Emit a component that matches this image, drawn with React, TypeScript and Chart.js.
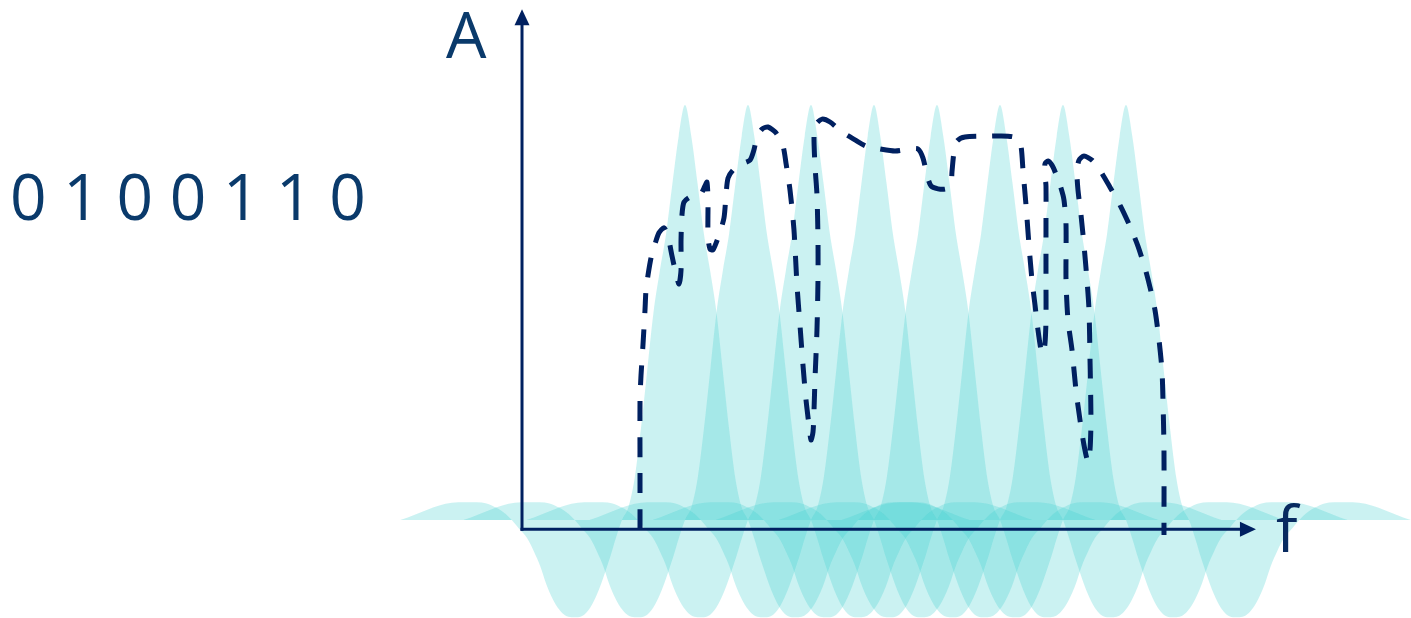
import React, { useEffect, useRef } from "react";
import { Chart, registerables } from "chart.js";

Chart.register(...registerables);

// ---- data (frequency in sub-carrier spacings, amplitude normalised to peak = 1) ----
const bits = ["0", "1", "0", "0", "1", "1", "0"];
const axisLabelY = "A";
const axisLabelX = "f";

const subcarrierCenters = [1, 2, 3, 4, 5, 6, 7, 8];

// one sub-carrier spectrum (offset from its centre, amplitude)
const profileOffsets = [
  -4.52, -4.4, -4.2, -4.0, -3.8, -3.6, -3.3, -3.15, -3.0, -2.85, -2.75,
  -2.64, -2.5, -2.4, -2.3, -2.2, -2.1, -2.0, -1.9, -1.8, -1.7, -1.6, -1.5, -1.4, -1.3, -1.2, -1.1, -1.0,
  -0.9, -0.8, -0.7, -0.6, -0.5, -0.4, -0.3, -0.2, -0.1, 0,
  0.1, 0.2, 0.3, 0.4, 0.5, 0.6, 0.7, 0.8, 0.9,
  1.0, 1.1, 1.2, 1.3, 1.4, 1.5, 1.6, 1.7, 1.8, 1.9, 2.0, 2.1, 2.2, 2.3, 2.4, 2.5, 2.64,
  2.75, 2.85, 3.0, 3.15, 3.3, 3.6, 3.8, 4.0, 4.2, 4.4, 4.52,
];
const profileValues = [
  0, 0.006, 0.018, 0.03, 0.039, 0.043, 0.043, 0.04, 0.03, 0.015, 0,
  -0.02, -0.045, -0.075, -0.11, -0.155, -0.19, -0.215, -0.23, -0.234, -0.234, -0.228, -0.21, -0.18, -0.14, -0.095, -0.045, 0,
  0.03, 0.1, 0.22, 0.36, 0.5, 0.6, 0.69, 0.81, 0.925, 1.0,
  0.925, 0.81, 0.69, 0.6, 0.5, 0.36, 0.22, 0.1, 0.03,
  0, -0.045, -0.095, -0.14, -0.18, -0.21, -0.228, -0.234, -0.234, -0.23, -0.215, -0.19, -0.155, -0.11, -0.075, -0.045, -0.02,
  0, 0.015, 0.03, 0.04, 0.043, 0.043, 0.039, 0.03, 0.018, 0.006, 0,
];

// dashed received envelope (path in drawing order)
const envelopeFreq = [
  0.286, 0.286, 0.286, 0.302, 0.333, 0.365, 0.381, 0.413, 0.46, 0.524, 0.587, 0.667,
  0.73, 0.794, 0.857, 0.905, 0.937, 0.937, 0.952, 0.984, 1.079, 1.238, 1.317, 1.349,
  1.365, 1.365, 1.397, 1.444, 1.54, 1.619, 1.651, 1.683, 1.762, 1.905, 2.032, 2.095,
  2.143, 2.222, 2.317, 2.444, 2.556, 2.603, 2.667, 2.73, 2.778, 2.825, 2.873, 2.921,
  2.968, 3.0, 3.032, 3.048, 3.063, 3.095, 3.111, 3.111, 3.095, 3.063, 3.048, 3.079,
  3.175, 3.302, 3.492, 3.698, 3.873, 4.095, 4.333, 4.571, 4.698, 4.778, 4.841, 4.905,
  5.016, 5.143, 5.222, 5.238, 5.27, 5.317, 5.444, 5.841, 6.127, 6.27, 6.333, 6.365,
  6.413, 6.46, 6.508, 6.556, 6.603, 6.651, 6.683, 6.714, 6.73, 6.73, 6.73, 6.73,
  6.714, 6.714, 6.762, 6.825, 6.889, 6.968, 7.016, 7.048, 7.048, 7.079, 7.143, 7.206,
  7.27, 7.333, 7.397, 7.429, 7.444, 7.429, 7.413, 7.381, 7.333, 7.286, 7.238, 7.222,
  7.254, 7.333, 7.46, 7.587, 7.746, 7.905, 8.063, 8.19, 8.302, 8.381, 8.46, 8.524,
  8.571, 8.587, 8.603, 8.603,
];
const envelopeAmp = [
  -0.022, 0.12, 0.289, 0.349, 0.422, 0.506, 0.554, 0.59, 0.631, 0.665, 0.692, 0.704,
  0.684, 0.636, 0.593, 0.569, 0.602, 0.675, 0.735, 0.766, 0.778, 0.783, 0.805, 0.814,
  0.771, 0.682, 0.653, 0.651, 0.687, 0.728, 0.783, 0.824, 0.843, 0.858, 0.867, 0.892,
  0.923, 0.942, 0.947, 0.933, 0.901, 0.86, 0.795, 0.699, 0.566, 0.47, 0.373, 0.289,
  0.229, 0.193, 0.212, 0.265, 0.337, 0.458, 0.578, 0.675, 0.783, 0.855, 0.928, 0.954,
  0.966, 0.959, 0.935, 0.916, 0.901, 0.894, 0.889, 0.894, 0.894, 0.872, 0.831, 0.805,
  0.798, 0.798, 0.812, 0.839, 0.887, 0.913, 0.923, 0.925, 0.925, 0.92, 0.901, 0.843,
  0.759, 0.663, 0.578, 0.518, 0.458, 0.41, 0.4, 0.425, 0.482, 0.578, 0.718, 0.805,
  0.831, 0.858, 0.865, 0.855, 0.834, 0.8, 0.771, 0.711, 0.578, 0.482, 0.41, 0.313,
  0.241, 0.181, 0.14, 0.169, 0.241, 0.386, 0.506, 0.578, 0.663, 0.735, 0.795, 0.839,
  0.867, 0.877, 0.867, 0.843, 0.802, 0.759, 0.708, 0.66, 0.607, 0.561, 0.506, 0.434,
  0.361, 0.289, 0.169, -0.036,
];

// ---- view / style ----
const X_MIN = -9.873;
const X_MAX = 12.524;
const Y_MIN = -0.236;
const Y_MAX = 1.253;
const AXIS_X_AT = -1.587; // frequency position of the vertical axis
const AXIS_Y_AT = -0.022; // amplitude position of the horizontal axis
const AXIS_Y_TOP = 1.231;
const AXIS_X_END = 10.063;

const NAVY = "#002060";
const FILL = "rgba(64, 208, 208, 0.27)";
const TEXT = "#0a3a6b";

const axesPlugin = {
  id: "arrowAxes",
  afterDatasetsDraw(chart: any) {
    const { ctx, scales } = chart;
    const xs = scales.x;
    const ys = scales.y;
    const ox = xs.getPixelForValue(AXIS_X_AT);
    const oy = ys.getPixelForValue(AXIS_Y_AT);
    const top = ys.getPixelForValue(AXIS_Y_TOP);
    const right = xs.getPixelForValue(AXIS_X_END);
    const head = 16;
    const half = 7.5;
    ctx.save();
    ctx.strokeStyle = NAVY;
    ctx.fillStyle = NAVY;
    ctx.lineWidth = 3;
    ctx.lineCap = "butt";
    ctx.beginPath();
    ctx.moveTo(ox, oy + 1.5);
    ctx.lineTo(ox, top + head - 1);
    ctx.stroke();
    ctx.beginPath();
    ctx.moveTo(ox - 1.5, oy);
    ctx.lineTo(right - head + 1, oy);
    ctx.stroke();
    ctx.beginPath();
    ctx.moveTo(ox, top);
    ctx.lineTo(ox - half, top + head);
    ctx.lineTo(ox + half, top + head);
    ctx.closePath();
    ctx.fill();
    ctx.beginPath();
    ctx.moveTo(right, oy);
    ctx.lineTo(right - head, oy - half);
    ctx.lineTo(right - head, oy + half);
    ctx.closePath();
    ctx.fill();
    ctx.restore();
  },
};

export default function App() {
  const canvasRef = useRef<HTMLCanvasElement | null>(null);

  useEffect(() => {
    if (!canvasRef.current) return;
    const subcarrierSets = subcarrierCenters.map((c) => ({
      data: profileOffsets.map((o, i) => ({ x: c + o, y: profileValues[i] })),
      fill: "origin",
      backgroundColor: FILL,
      borderWidth: 0,
      borderColor: "rgba(0,0,0,0)",
      pointRadius: 0,
      cubicInterpolationMode: "monotone",
      order: 1,
    }));
    const envelopeSet = {
      data: envelopeFreq.map((f, i) => ({ x: f, y: envelopeAmp[i] })),
      fill: false,
      borderColor: NAVY,
      borderWidth: 5,
      borderDash: [20, 16],
      borderCapStyle: "butt",
      borderJoinStyle: "round",
      pointRadius: 0,
      tension: 0.25,
      order: 0,
    };
    const chart = new Chart(canvasRef.current, {
      type: "line",
      data: { datasets: [envelopeSet, ...subcarrierSets] as any },
      options: {
        responsive: false,
        animation: false,
        events: [],
        layout: { padding: 0 },
        plugins: {
          legend: { display: false },
          tooltip: { enabled: false },
          title: { display: false },
        },
        scales: {
          x: { type: "linear", min: X_MIN, max: X_MAX, display: false },
          y: { type: "linear", min: Y_MIN, max: Y_MAX, display: false },
        },
      } as any,
      plugins: [axesPlugin],
    });
    return () => chart.destroy();
  }, []);

  const font = "'Open Sans', 'Noto Sans', sans-serif";
  const label = (extra: React.CSSProperties): React.CSSProperties => ({
    position: "absolute",
    fontFamily: font,
    fontSize: 64,
    lineHeight: "64px",
    color: TEXT,
    whiteSpace: "pre",
    margin: 0,
    ...extra,
  });

  return (
    <div
      style={{
        position: "fixed",
        left: 0,
        top: 0,
        width: 1411,
        height: 618,
        background: "#ffffff",
        overflow: "hidden",
      }}
    >
      <canvas ref={canvasRef} width={1411} height={618} style={{ display: "block" }} />
      <div style={label({ left: 10, top: 164 })}>{bits.join(" ")}</div>
      <div style={label({ left: 446, top: 2 })}>{axisLabelY}</div>
      <div style={label({ left: 1276, top: 496, color: "#082a60" })}>{axisLabelX}</div>
    </div>
  );
}
